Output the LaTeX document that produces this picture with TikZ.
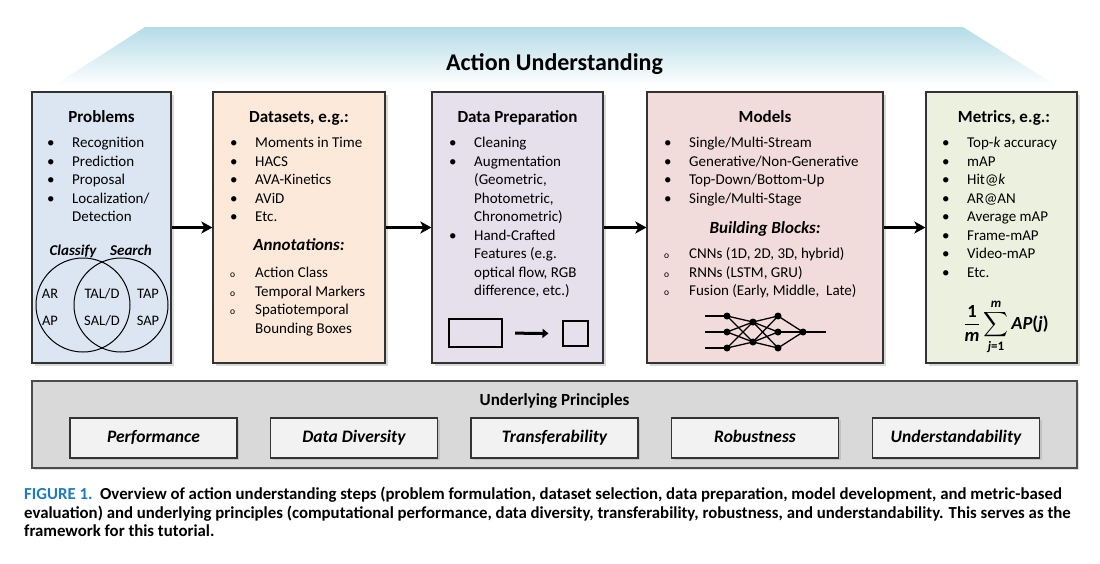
\documentclass[tikz,border=0pt]{standalone}
\usepackage{amsmath}
\usepackage{fontspec}
\setmainfont{Carlito}
\usetikzlibrary{shadows,arrows.meta}
\pgfdeclarelayer{boxlayer}
\pgfdeclarelayer{edgelayer}
\pgfdeclarelayer{nodelayer}
\pgfsetlayers{boxlayer,edgelayer,nodelayer,main}
\definecolor{bannerblue}{HTML}{B4DCE7}
\definecolor{probfill}{HTML}{DCE6F2}
\definecolor{datafill}{HTML}{FDE9D9}
\definecolor{prepfill}{HTML}{E5E0EC}
\definecolor{modelfill}{HTML}{F2DCDB}
\definecolor{metricfill}{HTML}{EBF1DE}
\definecolor{panelfill}{HTML}{D9D9D9}
\definecolor{principlefill}{HTML}{F2F2F2}
\definecolor{capblue}{HTML}{1F7BC1}
\newcommand{\listdot}{\textbullet}
\newcommand{\listring}{{\fontsize{9.5}{9}\selectfont o}}
\newcommand{\fbit}[1]{\textbf{\textit{#1}}}
\newcommand{\apmean}{$\displaystyle\frac{\textbf{1}}{\fbit{m}}\sum_{\fbit{j}\textbf{=1}}^{\fbit{m}}\fbit{AP}\textbf{(}\fbit{j}\textbf{)}$}
\tikzset{font=\fontsize{15}{18.5}\selectfont}
\tikzstyle{none}=[inner sep=0pt]
\tikzstyle{list}=[inner sep=0pt,anchor=base west]
\tikzstyle{stage}=[rectangle,draw=black!80,line width=1.2pt,inner sep=0pt,drop shadow={shadow xshift=2.5pt,shadow yshift=-2.5pt,opacity=0.3}]
\tikzstyle{head}=[inner sep=0pt,anchor=base,font=\fontsize{17}{20}\selectfont\bfseries]
\tikzstyle{subhead}=[inner sep=0pt,anchor=base,font=\fontsize{17}{20}\selectfont\bfseries\itshape]
\tikzstyle{venn}=[circle,draw,line width=1pt,minimum size=94pt,inner sep=0pt]
\tikzstyle{vennlabel}=[inner sep=0pt,anchor=base,font=\fontsize{14.5}{17}\selectfont]
\tikzstyle{flow}=[line width=2.3pt,-{Stealth[length=11pt,width=12pt,inset=3pt]}]
\tikzstyle{frame}=[rectangle,draw,line width=2pt,inner sep=0pt]
\tikzstyle{shrink}=[line width=3pt,-{Triangle[length=6pt,width=9pt]},shorten <=12pt,shorten >=13pt]
\tikzstyle{neuron}=[circle,fill=black,inner sep=0pt,minimum size=7pt]
\tikzstyle{wire}=[line width=1.3pt]
\tikzstyle{panel}=[rectangle,draw=black!70,fill=panelfill,line width=1.2pt,minimum width=1045pt,minimum height=87pt,drop shadow={shadow xshift=2pt,shadow yshift=-2pt,opacity=0.25}]
\tikzstyle{principle}=[rectangle,draw=black!80,fill=principlefill,line width=1.1pt,minimum width=167pt,minimum height=40pt,text height=12pt,text depth=3pt,font=\fontsize{17.5}{20}\selectfont\bfseries\itshape,drop shadow={shadow xshift=2pt,shadow yshift=-2pt,opacity=0.25}]
\tikzstyle{caption}=[inner sep=0pt,anchor=base west,font=\fontsize{16.8}{18}\selectfont\bfseries]

\begin{document}
\begin{tikzpicture}[x=1pt,y=-1pt]
	\begin{pgfonlayer}{boxlayer}
		\useasboundingbox (0,0) rectangle (1100,563);
		\shade [top color=bannerblue, bottom color=white] (145,27) -- (963,27) -- (1057,86) -- (53,86) -- cycle;
		\node [style=stage, fill=probfill, minimum width=139pt, minimum height=271pt] (prob) at (101.5,227.5) {};
		\node [style=stage, fill=datafill, minimum width=172pt, minimum height=271pt] (data) at (299,227.5) {};
		\node [style=stage, fill=prepfill, minimum width=171pt, minimum height=271pt] (prep) at (517.5,227.5) {};
		\node [style=stage, fill=modelfill, minimum width=236pt, minimum height=271pt] (model) at (765,227.5) {};
		\node [style=stage, fill=metricfill, minimum width=151pt, minimum height=271pt] (metric) at (1001.5,227.5) {};
		\node [style=panel] (base) at (554.5,424.5) {};
		\node [style=principle] (perf) at (153.5,438) {Performance};
		\node [style=principle] (divers) at (354,438) {Data Diversity};
		\node [style=principle] (transf) at (554.5,438) {Transferability};
		\node [style=principle] (robust) at (755,438) {Robustness};
		\node [style=principle] (underst) at (956,438) {Understandability};
	\end{pgfonlayer}
	\begin{pgfonlayer}{nodelayer}
		\node [style=head, font=\fontsize{24}{27}\selectfont\bfseries] (title) at (554.5,70) {Action Understanding};
		\node [style=head] (probhead) at (101.5,122.5) {Problems};
		\node [style=head] (datahead) at (299,122.5) {Datasets, e.g.:};
		\node [style=head] (prephead) at (517.5,122.5) {Data Preparation};
		\node [style=head] (modelhead) at (765,122.5) {Models};
		\node [style=head] (metrichead) at (1004,122.5) {Metrics, e.g.:};
		\node [style=list] (problist) at (47,147.5) {\begin{tabular}[t]{@{}p{25pt}@{}l@{}}
			\listdot & Recognition\\ \listdot & Prediction\\ \listdot & Proposal\\
			\listdot & Localization/\\ & Detection\end{tabular}};
		\node [style=none, anchor=base, font=\fontsize{15}{18}\selectfont\bfseries\itshape] (classify) at (73,255) {Classify};
		\node [style=none, anchor=base, font=\fontsize{15}{18}\selectfont\bfseries\itshape] (search) at (131,255) {Search};
		\node [style=venn] (left) at (83,305) {};
		\node [style=venn] (right) at (121,305) {};
		\node [style=vennlabel] (ar) at (50,298) {AR};
		\node [style=vennlabel] (ap) at (50,325) {AP};
		\node [style=vennlabel] (tal) at (102,298) {TAL/D};
		\node [style=vennlabel] (sal) at (102,325) {SAL/D};
		\node [style=vennlabel] (tap) at (148,298) {TAP};
		\node [style=vennlabel] (sap) at (148,325) {SAP};
		\node [style=list] (datalist) at (230,147.5) {\begin{tabular}[t]{@{}p{25pt}@{}l@{}}
			\listdot & Moments in Time\\ \listdot & HACS\\ \listdot & AVA-Kinetics\\
			\listdot & AViD\\ \listdot & Etc.\end{tabular}};
		\node [style=subhead] (annot) at (299,250.5) {Annotations:};
		\node [style=list] (annotlist) at (230,277.5) {\begin{tabular}[t]{@{}p{25pt}@{}l@{}}
			\listring & Action Class\\ \listring & Temporal Markers\\
			\listring & Spatiotemporal\\ & Bounding Boxes\end{tabular}};
		\node [style=list] (preplist) at (449,147.5) {\begin{tabular}[t]{@{}p{25pt}@{}l@{}}
			\listdot & Cleaning\\ \listdot & Augmentation\\ & (Geometric,\\ & Photometric,\\
			& Chronometric)\\ \listdot & Hand-Crafted\\ & Features (e.g.\\
			& optical flow, RGB\\ & difference, etc.)\end{tabular}};
		\node [style=frame, minimum width=53pt, minimum height=28pt] (bigframe) at (475.5,333) {};
		\node [style=frame, minimum size=25pt] (smallframe) at (575,333.5) {};
		\node [style=list] (modellist) at (664,147.5) {\begin{tabular}[t]{@{}p{25pt}@{}l@{}}
			\listdot & Single/Multi-Stream\\ \listdot & Generative/Non-Generative\\
			\listdot & Top-Down/Bottom-Up\\ \listdot & Single/Multi-Stage\end{tabular}};
		\node [style=subhead] (blocks) at (765,233.5) {Building Blocks:};
		\node [style=list] (blocklist) at (664,258.5) {\begin{tabular}[t]{@{}p{25pt}@{}l@{}}
			\listring & CNNs (1D, 2D, 3D, hybrid)\\ \listring & RNNs (LSTM, GRU)\\
			\listring & Fusion (Early, Middle,\ \ Late)\end{tabular}};
		\node [style=neuron] (a1) at (727,316) {};
		\node [style=neuron] (a2) at (727,332) {};
		\node [style=neuron] (a3) at (727,348) {};
		\node [style=neuron] (b1) at (753,322) {};
		\node [style=neuron] (b2) at (753,342) {};
		\node [style=neuron] (c1) at (778,316) {};
		\node [style=neuron] (c2) at (778,332) {};
		\node [style=neuron] (c3) at (778,348) {};
		\node [style=neuron] (d1) at (803,332) {};
		\coordinate (x1) at (705,316);
		\coordinate (x2) at (705,332);
		\coordinate (x3) at (705,348);
		\coordinate (y1) at (826,332);
		\node [style=list] (metriclist) at (942,147.5) {\begin{tabular}[t]{@{}p{25pt}@{}l@{}}
			\listdot & Top-\textit{k} accuracy\\ \listdot & mAP\\ \listdot & Hit@\textit{k}\\
			\listdot & AR@AN\\ \listdot & Average mAP\\ \listdot & Frame-mAP\\
			\listdot & Video-mAP\\ \listdot & Etc.\end{tabular}};
		\node [style=none, font=\fontsize{18.5}{22}\selectfont] (formula) at (1006,327) {\apmean};
		\node [style=head] (princhead) at (554.5,405.5) {Underlying Principles};
		\node [style=caption] (cap1) at (24,499) {\textcolor{capblue}{FIGURE 1.}\ \ Overview of action understanding steps (problem formulation, dataset selection, data preparation, model development, and metric-based};
		\node [style=caption] (cap2) at (24,518) {evaluation) and underlying principles (computational performance, data diversity, transferability, robustness, and understandability. This serves as the};
		\node [style=caption] (cap3) at (24,536) {framework for this tutorial.};
	\end{pgfonlayer}
	\begin{pgfonlayer}{edgelayer}
		\draw [style=flow] (prob) to (data);
		\draw [style=flow] (data) to (prep);
		\draw [style=flow] (prep) to (model);
		\draw [style=flow] (model) to (metric);
		\draw [style=shrink] (bigframe) to (smallframe);
		\draw [style=wire] (x1) to (a1.center);
		\draw [style=wire] (x2) to (a2.center);
		\draw [style=wire] (x3) to (a3.center);
		\draw [style=wire] (a1.center) to (b1.center);
		\draw [style=wire] (a1.center) to (b2.center);
		\draw [style=wire] (a2.center) to (b1.center);
		\draw [style=wire] (a2.center) to (b2.center);
		\draw [style=wire] (a3.center) to (b1.center);
		\draw [style=wire] (a3.center) to (b2.center);
		\draw [style=wire] (b1.center) to (c1.center);
		\draw [style=wire] (b1.center) to (c2.center);
		\draw [style=wire] (b1.center) to (c3.center);
		\draw [style=wire] (b2.center) to (c1.center);
		\draw [style=wire] (b2.center) to (c2.center);
		\draw [style=wire] (b2.center) to (c3.center);
		\draw [style=wire] (c1.center) to (d1.center);
		\draw [style=wire] (c2.center) to (d1.center);
		\draw [style=wire] (c3.center) to (d1.center);
		\draw [style=wire] (d1.center) to (y1);
	\end{pgfonlayer}
\end{tikzpicture}
\end{document}
